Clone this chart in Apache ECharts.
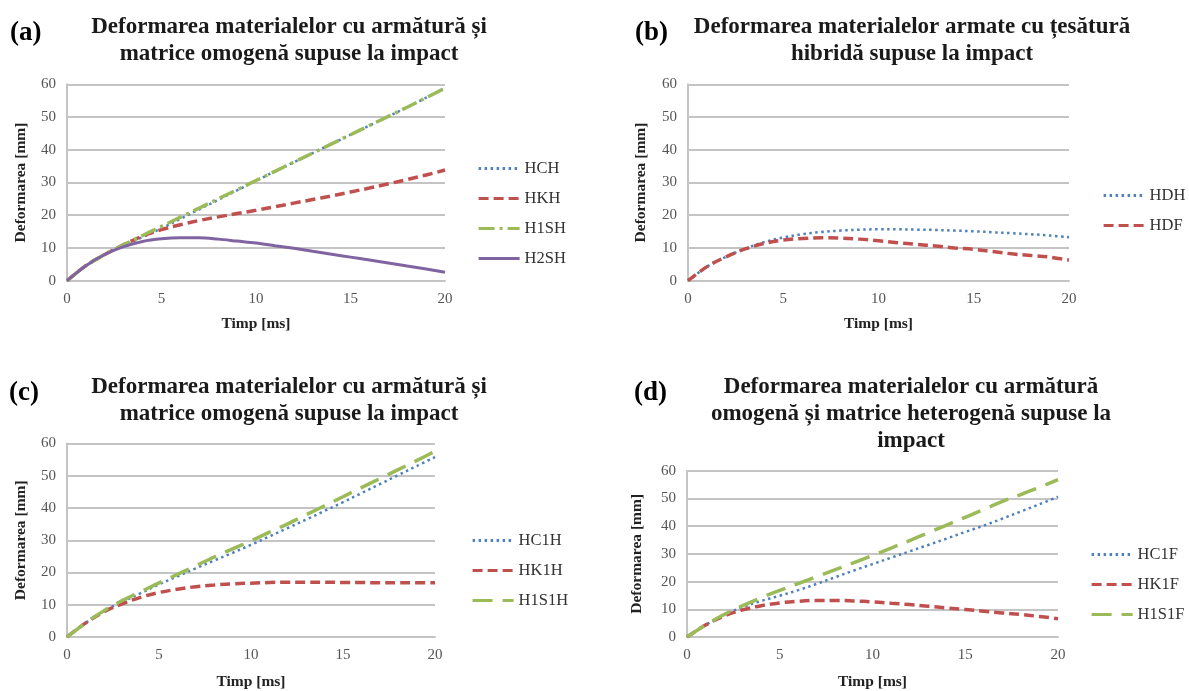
<!DOCTYPE html>
<html>
<head>
<meta charset="utf-8">
<script src="https://cdn.jsdelivr.net/npm/echarts@6/dist/echarts.min.js"></script>
<style>
html,body{margin:0;padding:0;background:#fff;}
#c{width:1189px;height:691px;}
</style>
</head>
<body>
<div id="c"></div>
<script>
// ---- data ----
const timp = [0,1,2,3,4,5,6,7,8,9,10,11,12,13,14,15,16,17,18,19,20];
const xTicks = [0,5,10,15,20];
const yTicks = [0,10,20,30,40,50,60];

// (a)
const HCH  = [0,4.6,8.0,10.8,13.3,16.0,18.9,21.8,24.7,27.6,30.5,33.4,36.2,39.0,41.8,44.6,47.4,50.2,53.0,55.9,58.8];
const HKH  = [0,4.6,8.0,11.0,13.6,15.6,17.1,18.4,19.5,20.5,21.5,22.6,23.7,24.8,25.9,27.1,28.3,29.6,30.9,32.3,33.8];
const H1SH = [0,4.6,8.0,11.0,13.8,16.6,19.4,22.2,25.0,27.8,30.6,33.4,36.2,39.0,41.8,44.6,47.4,50.2,53.0,55.9,58.8];
const H2SH = [0,4.6,8.0,10.4,12.0,12.8,13.1,13.1,12.7,12.1,11.5,10.7,9.9,9.0,8.1,7.2,6.3,5.4,4.5,3.6,2.6];
// (b)
const HDH = [0,4.3,7.3,9.8,11.8,13.2,14.2,14.9,15.3,15.6,15.7,15.7,15.6,15.5,15.3,15.1,14.8,14.5,14.2,13.8,13.3];
const HDF = [0,4.3,7.3,9.7,11.4,12.4,12.9,13.1,13.0,12.7,12.2,11.6,11.1,10.6,10.0,9.6,8.9,8.2,7.7,7.2,6.3];
// (c)
const HC1H  = [0,4.3,8.0,10.9,13.6,16.3,18.8,21.3,23.7,26.1,28.6,31.2,33.8,36.4,39.1,41.8,44.6,47.4,50.2,53.0,55.8];
const HK1H  = [0,4.3,7.8,10.3,12.3,13.8,14.8,15.6,16.1,16.5,16.7,16.9,17.0,17.0,17.0,16.9,16.9,16.8,16.8,16.8,16.8];
const H1S1H = [0,4.3,8.1,11.3,14.0,16.8,19.4,22.1,24.8,27.3,29.8,32.5,35.1,37.9,40.7,43.5,46.3,49.1,51.9,54.7,57.6];
// (d)
const HC1F  = [0,4.3,8.0,10.8,13.0,14.9,16.9,19.2,21.6,24.0,26.3,28.6,30.9,33.2,35.5,37.9,40.2,42.7,45.3,47.9,50.6];
const HK1F  = [0,4.3,7.6,9.8,11.3,12.3,12.9,13.2,13.2,13.0,12.7,12.2,11.7,11.1,10.5,9.9,9.3,8.7,8.1,7.4,6.6];
const H1S1F = [0,4.3,8.1,11.3,14.2,16.8,19.3,21.8,24.3,26.8,29.4,32.1,34.8,37.6,40.4,43.2,46.0,48.9,51.4,54.0,56.8];

const panelLabels = ['(a)','(b)','(c)','(d)'];
const panelTitles = [
  'Deformarea materialelor cu armătură și\nmatrice omogenă supuse la impact',
  'Deformarea materialelor armate cu țesătură\nhibridă supuse la impact',
  'Deformarea materialelor cu armătură și\nmatrice omogenă supuse la impact',
  'Deformarea materialelor cu armătură\nomogenă și matrice heterogenă supuse la\nimpact'
];
const xName = 'Timp [ms]';
const yName = 'Deformarea [mm]';

// ---- styles ----
const FONT = '"Liberation Serif","Times New Roman",serif';
const BLUE = '#4f81bd', RED = '#c0504d', GREEN = '#9bbb59', PURPLE = '#8064a2';
const dotted = {color: BLUE, width: 2.5, type: [2.5, 3.5]};
const dashed = {color: RED, width: 3.5, type: [10, 5]};
const dashDot = {color: GREEN, width: 3.5, type: [16, 5, 3, 5]};
const longDash = {color: GREEN, width: 3.5, type: [20, 10]};
const solid = {color: PURPLE, width: 3, type: 'solid'};

const grids = [
  {left: 67,  top: 84.3,  width: 378, height: 196.4},
  {left: 688, top: 84.3,  width: 381, height: 196.4},
  {left: 67,  top: 443.5, width: 368, height: 194.8},
  {left: 687, top: 470.7, width: 371, height: 167.6}
];
const yNameGaps = [38, 39, 38, 42];
const xNameGap = [35, 35, 37, 37];
const legendPos = [
  {left: 477, top: 160},
  {left: 1102, top: 187},
  {left: 471, top: 532},
  {left: 1090, top: 546}
];
const labelPos = [{left: 10, top: 20}, {left: 635, top: 20}, {left: 9, top: 380}, {left: 634, top: 380}];
const titleCenters = [{x: 289, y: 14}, {x: 912, y: 14}, {x: 289, y: 373.5}, {x: 911, y: 373.5}];

const panels = [
  [['HCH', HCH, dotted], ['HKH', HKH, dashed], ['H1SH', H1SH, dashDot], ['H2SH', H2SH, solid]],
  [['HDH', HDH, dotted], ['HDF', HDF, dashed]],
  [['HC1H', HC1H, dotted], ['HK1H', HK1H, dashed], ['H1S1H', H1S1H, longDash]],
  [['HC1F', HC1F, dotted], ['HK1F', HK1F, dashed], ['H1S1F', H1S1F, longDash]]
];

const option = {
  backgroundColor: '#fff',
  animation: false,
  textStyle: {fontFamily: FONT},
  grid: grids.map(g => Object.assign({containLabel: false}, g)),
  xAxis: grids.map((g, i) => ({
    gridIndex: i, type: 'value', min: xTicks[0], max: xTicks[xTicks.length - 1], interval: 5,
    name: xName, nameLocation: 'middle', nameGap: xNameGap[i],
    nameTextStyle: {fontFamily: FONT, fontWeight: 'bold', fontSize: 15.5, color: '#222'},
    axisLine: {show: true, lineStyle: {color: '#c4c4c4', width: 2}},
    axisTick: {show: false},
    splitLine: {show: false},
    axisLabel: {fontFamily: FONT, fontSize: 15, color: '#555', margin: 11}
  })),
  yAxis: grids.map((g, i) => ({
    gridIndex: i, type: 'value', min: yTicks[0], max: yTicks[yTicks.length - 1], interval: 10,
    name: yName, nameLocation: 'middle', nameGap: yNameGaps[i], nameRotate: 90,
    nameTextStyle: {fontFamily: FONT, fontWeight: 'bold', fontSize: 15.5, color: '#222'},
    axisLine: {show: true, lineStyle: {color: '#c4c4c4', width: 2}},
    axisTick: {show: false},
    splitLine: {show: true, lineStyle: {color: '#c4c4c4', width: 2}},
    axisLabel: {fontFamily: FONT, fontSize: 15, color: '#555', margin: 11}
  })),
  title: [].concat(
    panelLabels.map((t, i) => ({
      text: t, left: labelPos[i].left, top: labelPos[i].top, padding: 0,
      textStyle: {fontFamily: FONT, fontWeight: 'bold', fontSize: 27, color: '#000'}
    })),
    panelTitles.map((t, i) => ({
      text: t, left: titleCenters[i].x, top: titleCenters[i].y, padding: 0, textAlign: 'center',
      textStyle: {fontFamily: FONT, fontWeight: 'bold', fontSize: 23, lineHeight: 27, color: '#1a1a1a'}
    }))
  ),
  legend: panels.map((p, i) => ({
    orient: 'vertical', left: legendPos[i].left, top: legendPos[i].top, padding: 0,
    itemWidth: 41, itemHeight: 14, itemGap: 13,
    data: p.map(s => s[0]),
    itemStyle: {opacity: 0},
    lineStyle: {width: 3.2},
    textStyle: {fontFamily: FONT, fontSize: 16.5, color: '#333'}
  })),
  series: []
};

panels.forEach((p, i) => {
  p.forEach(([name, vals, ls]) => {
    option.series.push({
      name: name, type: 'line', xAxisIndex: i, yAxisIndex: i,
      data: timp.map((t, k) => [t, vals[k]]),
      smooth: 0.35, symbol: 'none', showSymbol: false,
      lineStyle: Object.assign({}, ls),
      itemStyle: {color: ls.color},
      color: ls.color
    });
  });
});
const chart = echarts.init(document.getElementById('c'), null, {renderer: 'canvas'});
chart.setOption(option);
</script>
</body>
</html>
